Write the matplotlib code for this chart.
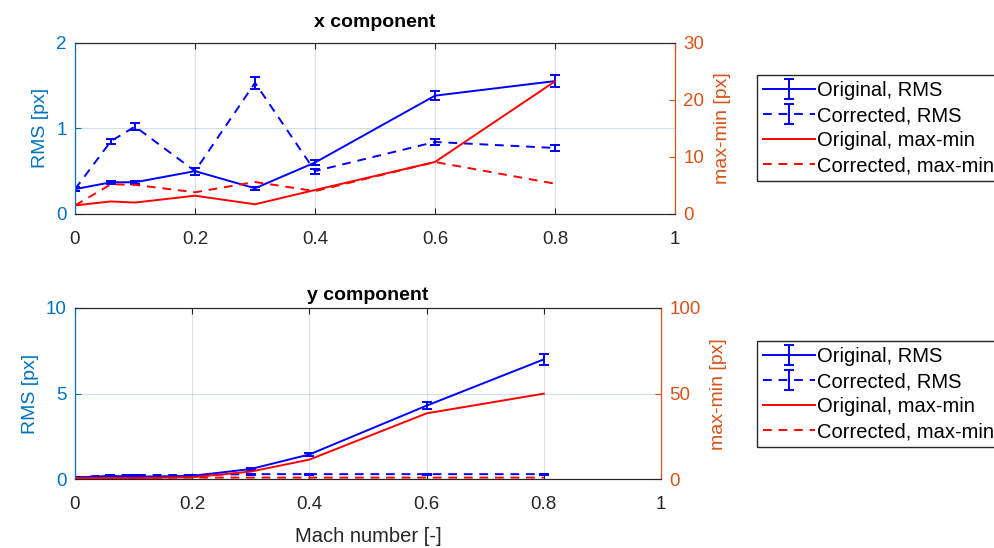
import matplotlib
matplotlib.use("Agg")
import matplotlib.pyplot as plt

plt.rcParams['font.family'] = ['Liberation Sans', 'DejaVu Sans']

# Mach numbers of the test points
mach = [0, 0.06, 0.1, 0.2, 0.3, 0.4, 0.6, 0.8]

# x component
x_rms_orig = [0.29, 0.37, 0.37, 0.50, 0.30, 0.60, 1.38, 1.55]
x_rms_orig_err = [0.02, 0.02, 0.02, 0.04, 0.02, 0.03, 0.05, 0.07]
x_rms_corr = [0.29, 0.85, 1.02, 0.50, 1.53, 0.50, 0.84, 0.77]
x_rms_corr_err = [0.02, 0.03, 0.04, 0.04, 0.07, 0.03, 0.03, 0.04]
x_mm_orig = [1.5, 2.2, 2.0, 3.2, 1.7, 4.2, 9.1, 23.2]
x_mm_corr = [1.5, 5.2, 5.1, 3.8, 5.6, 4.0, 9.1, 5.3]

# y component
y_rms_orig = [0.10, 0.20, 0.15, 0.20, 0.60, 1.45, 4.30, 7.00]
y_rms_orig_err = [0.02, 0.03, 0.02, 0.02, 0.04, 0.08, 0.20, 0.33]
y_rms_corr = [0.10, 0.25, 0.25, 0.25, 0.30, 0.30, 0.30, 0.30]
y_rms_corr_err = [0.02, 0.02, 0.02, 0.02, 0.02, 0.02, 0.02, 0.02]
y_mm_orig = [0.5, 0.8, 0.7, 1.2, 4.5, 11.5, 38.5, 50.0]
y_mm_corr = [0.5, 0.8, 0.8, 1.0, 1.0, 1.0, 1.0, 1.0]

legend_labels = ['Original, RMS', 'Corrected, RMS', 'Original, max-min', 'Corrected, max-min']

LEFT_C = '#0072BD'
RIGHT_C = '#D95319'
AX_C = '#262626'
DASH = (0, (4.5, 3.5))

fig = plt.figure(figsize=(9.94, 5.48), dpi=100)


def panel(rect, title, title_pad, rms_o, rms_o_err, rms_c, rms_c_err, mm_o, mm_c,
          lticks, rticks, leg_y):
    ax = fig.add_axes(rect)
    axr = ax.twinx()

    h1 = ax.errorbar(mach, rms_o, yerr=rms_o_err, color='blue', lw=1.4,
                     capsize=3.5, elinewidth=1.4, capthick=1.4)
    h2 = ax.errorbar(mach, rms_c, yerr=rms_c_err, color='blue', lw=1.4,
                     ls=DASH, capsize=3.5, elinewidth=1.4, capthick=1.4)
    h3, = axr.plot(mach, mm_o, color='red', lw=1.4)
    h4, = axr.plot(mach, mm_c, color='red', lw=1.4, ls=DASH)

    ax.set_xlim(0, 1)
    ax.set_ylim(lticks[0], lticks[-1])
    axr.set_ylim(rticks[0], rticks[-1])
    ax.set_xticks([0, 0.2, 0.4, 0.6, 0.8, 1])
    ax.set_xticklabels(['0', '0.2', '0.4', '0.6', '0.8', '1'])
    ax.set_yticks(lticks)
    axr.set_yticks(rticks)

    ax.xaxis.grid(True, color='#262626', alpha=0.15, lw=0.8)
    ax.yaxis.grid(True, color=LEFT_C, alpha=0.2, lw=0.8)
    ax.set_axisbelow(True)

    ax.tick_params(axis='x', direction='in', colors=AX_C, labelsize=13.5,
                   top=True, length=4, pad=12)
    ax.tick_params(axis='y', direction='in', colors=LEFT_C, labelsize=13.5,
                   length=4, pad=6)
    axr.tick_params(axis='y', direction='in', colors=RIGHT_C, labelsize=13.5,
                    length=4, pad=6)

    for a in (ax, axr):
        a.spines['top'].set_color(AX_C)
        a.spines['bottom'].set_color(AX_C)
        a.spines['left'].set_color(LEFT_C)
        a.spines['right'].set_color(RIGHT_C)
        for s in a.spines.values():
            s.set_linewidth(0.8)

    ax.set_ylabel('RMS [px]', color=LEFT_C, fontsize=14, labelpad=5)
    axr.set_ylabel('max-min [px]', color=RIGHT_C, fontsize=14, labelpad=7)
    ax.set_title(title, fontsize=14, fontweight='bold', pad=title_pad)

    fig.legend([h1, h2, h3, h4], legend_labels, loc='upper left',
               bbox_to_anchor=(757 / 994, leg_y), fontsize=14.5,
               frameon=True, fancybox=False, edgecolor=AX_C,
               framealpha=1, handlelength=2.6, handletextpad=0.1,
               borderpad=0.3, labelspacing=0.3, borderaxespad=0)
    return ax


panel([75 / 994, 1 - 214 / 548, 600 / 994, 171.5 / 548], 'x component', 11,
      x_rms_orig, x_rms_orig_err, x_rms_corr, x_rms_corr_err,
      x_mm_orig, x_mm_corr, [0, 1, 2], [0, 10, 20, 30], 1 - 75 / 548)

axb = panel([75 / 994, 1 - 479.3 / 548, 586 / 994, 171.3 / 548], 'y component', 6,
            y_rms_orig, y_rms_orig_err, y_rms_corr, y_rms_corr_err,
            y_mm_orig, y_mm_corr, [0, 5, 10], [0, 50, 100], 1 - 341 / 548)
axb.set_xlabel('Mach number [-]', color=AX_C, fontsize=14.5, labelpad=10)

fig.savefig('out.png', dpi=100)
